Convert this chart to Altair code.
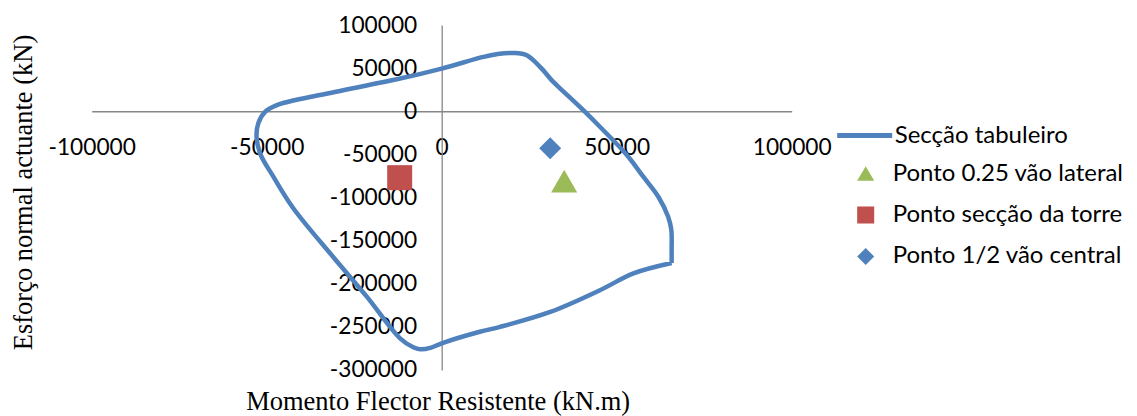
import altair as alt
import pandas as pd

# Interaction curve "Secção tabuleiro" (M in kN.m, N in kN)
curve_m = [65700, 65700, 65600, 64700, 61900, 57600, 52900, 45200, 39500, 34500,
           31900, 28100, 24300, 20500, 16000, 11900, 0, -11900, -34800, -47100,
           -50400, -52400, -52900, -51900, -48100, -42400, -31000, -21400, -11900, -8100,
           -6200, -3000, 0, 10900, 16700, 31000, 45200, 54800, 65700]
curve_n = [-176000, -160900, -137400, -122300, -99100, -75900, -50700, -18000, 5000, 24000,
           34000, 51400, 65000, 67600, 66500, 63000, 49500, 37900, 18800, 7200,
           -500, -14000, -29500, -48800, -75900, -112500, -169000, -215000, -263300, -273700,
           -276000, -274000, -269000, -255600, -250000, -232700, -207500, -188000, -176000]

point_names = ["Ponto 0.25 vão lateral", "Ponto secção da torre", "Ponto 1/2 vão central"]
point_m = [35000, -12000, 31000]
point_n = [-81000, -77000, -43000]

line_name = "Secção tabuleiro"
x_ticks = [-100000, -50000, 0, 50000, 100000]
y_ticks = [-300000, -250000, -200000, -150000, -100000, -50000, 0, 50000, 100000]

curve_df = pd.DataFrame({"M": curve_m, "N": curve_n, "idx": list(range(len(curve_m))),
                         "serie": [line_name] * len(curve_m)})
pts_df = pd.DataFrame({"M": point_m, "N": point_n, "ponto": point_names})

W, H = 700, 345
x_zero_px = W / 2
y_zero_px = H * 100000 / 400000

tick_font = "Lato"
tick_size = 22.7
legend_size = 24
title_font = "Liberation Serif"
title_size = 26.5

x_enc = alt.X("M:Q",
              scale=alt.Scale(domain=[-100000, 100000], nice=False, zero=False),
              axis=alt.Axis(values=x_ticks, labelExpr="'' + datum.value", grid=False,
                            ticks=False, tickSize=0, domainColor="#868686", domainWidth=1.3,
                            offset=-(H - y_zero_px), labelPadding=36, labelBaseline="middle",
                            labelFont=tick_font, labelFontSize=tick_size, labelColor="black",
                            labelFlush=False, labelOverlap=False,
                            title="Momento Flector Resistente (kN.m)", titleFont=title_font,
                            titleFontSize=title_size, titleFontWeight="normal", titleColor="black",
                            titleX=x_zero_px - 4, titleY=298, titleAlign="center",
                            titleBaseline="alphabetic"))
y_enc = alt.Y("N:Q",
              scale=alt.Scale(domain=[-300000, 100000], nice=False, zero=False),
              axis=alt.Axis(values=y_ticks, labelExpr="'' + datum.value", grid=False,
                            ticks=False, tickSize=0, domainColor="#868686", domainWidth=1.3,
                            offset=-x_zero_px, labelPadding=25, labelBaseline="middle",
                            labelFont=tick_font, labelFontSize=tick_size, labelColor="black",
                            labelFlush=False, labelOverlap=False,
                            title="Esforço normal actuante (kN)", titleFont=title_font,
                            titleFontSize=title_size, titleFontWeight="normal", titleColor="black",
                            titleAngle=270, titleX=-(x_zero_px + 60), titleY=167,
                            titleAlign="center", titleBaseline="alphabetic"))

line = alt.Chart(curve_df).mark_line(strokeWidth=4.5, interpolate="catmull-rom").encode(
    x=x_enc, y=y_enc, order=alt.Order("idx:Q"),
    stroke=alt.Stroke("serie:N", scale=alt.Scale(domain=[line_name], range=["#4F81BD"]),
                      legend=alt.Legend(orient="none", legendX=743, legendY=80.5, title=None,
                                        symbolType="stroke", symbolSize=3025,
                                        symbolStrokeWidth=5, padding=0, labelOffset=0,
                                        labelFont=tick_font, labelFontSize=legend_size,
                                        labelColor="black", labelLimit=400))
)

legend_pts = alt.Legend(orient="none", legendX=762, legendY=136.5, title=None,
                        symbolSize=290, symbolStrokeWidth=0, padding=0, labelOffset=15,
                        rowPadding=17.5, labelFont=tick_font, labelFontSize=legend_size,
                        labelColor="black", labelLimit=400)
pcolor = alt.Color("ponto:N", scale=alt.Scale(domain=point_names,
                                              range=["#9BBB59", "#C0504D", "#4F81BD"]),
                   legend=legend_pts)
pshape = alt.Shape("ponto:N", scale=alt.Scale(domain=point_names,
                                              range=["triangle-up", "square", "diamond"]),
                   legend=legend_pts)

sizes = [680, 625, 484]
layers = [line]
for name, s in zip(point_names, sizes):
    layers.append(
        alt.Chart(pts_df).transform_filter(alt.datum.ponto == name)
        .mark_point(filled=True, opacity=1, strokeWidth=0)
        .encode(x="M:Q", y="N:Q", color=pcolor, shape=pshape, size=alt.value(s))
    )

chart = alt.layer(*layers).properties(
    width=W, height=H,
    autosize=alt.AutoSizeParams(type="none"),
    padding={"left": 83.7, "top": 17, "right": 337, "bottom": 46},
).configure_view(stroke=None)

chart.save("out.html", embed_options={"renderer": "svg", "actions": False})
